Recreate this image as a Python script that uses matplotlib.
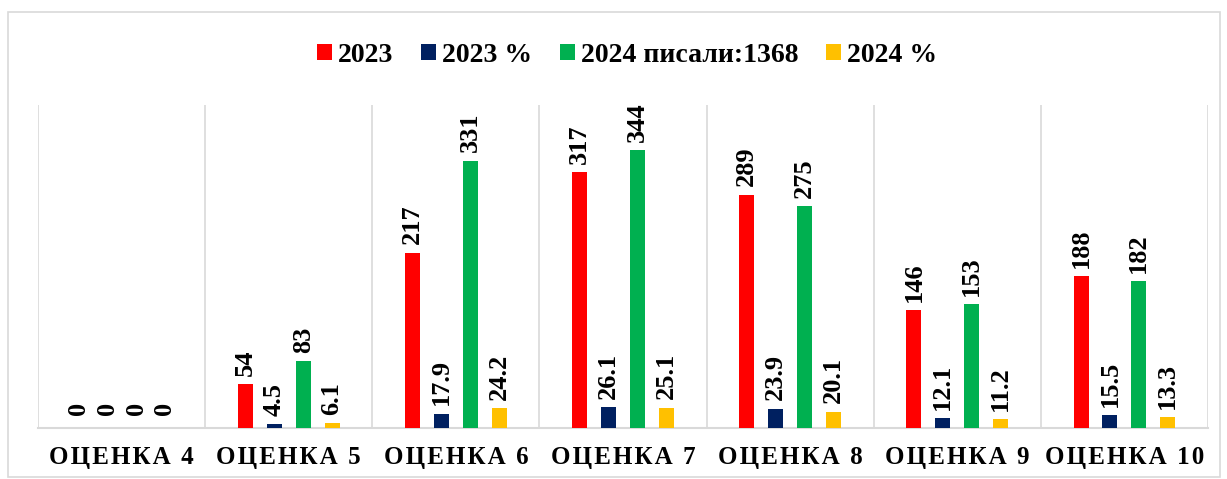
# grouped bars per grade with rotated value labels
# comments are lowercase no punctuation

import numpy as np
import matplotlib.pyplot as plt
from matplotlib.patches import Rectangle

categories = ["ОЦЕНКА 4", "ОЦЕНКА 5", "ОЦЕНКА 6", "ОЦЕНКА 7",
              "ОЦЕНКА 8", "ОЦЕНКА 9", "ОЦЕНКА 10"]
series_names = ["2023", "2023 %", "2024 писали:1368", "2024 %"]
v2023 = [0, 54, 217, 317, 289, 146, 188]
v2023_pct = [0, 4.5, 17.9, 26.1, 23.9, 12.1, 15.5]
v2024 = [0, 83, 331, 344, 275, 153, 182]
v2024_pct = [0, 6.1, 24.2, 25.1, 20.1, 11.2, 13.3]
labels2023 = ["0", "54", "217", "317", "289", "146", "188"]
labels2023_pct = ["0", "4.5", "17.9", "26.1", "23.9", "12.1", "15.5"]
labels2024 = ["0", "83", "331", "344", "275", "153", "182"]
labels2024_pct = ["0", "6.1", "24.2", "25.1", "20.1", "11.2", "13.3"]

colors = ["#ff0000", "#002060", "#00b050", "#ffc000"]
grid_c = "#d9d9d9"

plt.rcParams["font.family"] = ["Liberation Serif", "DejaVu Serif"]


def spaced(s):
    return "\u200a".join(list(s))


def main():
    fig = plt.figure(figsize=(12.27, 4.79), dpi=100)
    ax = fig.add_axes([0.031, 0.1065, 0.9535, 0.6745])

    # outer chart border
    fig.patches.append(Rectangle((8 / 1227, 2 / 479), 1212 / 1227, 465 / 479,
                                 transform=fig.transFigure, fill=False,
                                 edgecolor=grid_c, linewidth=1.2))

    x = np.arange(len(categories))
    step = 0.173
    width = 0.09
    data = [v2023, v2023_pct, v2024, v2024_pct]
    labs = [labels2023, labels2023_pct, labels2024, labels2024_pct]
    for i, (vals, lab, col, name) in enumerate(zip(data, labs, colors, series_names)):
        pos = x + (i - 1.5) * step
        ax.bar(pos, vals, width=width, color=col, label=name, zorder=3)
        for p, v, t in zip(pos, vals, lab):
            off = 9 if v == 0 else 6
            ax.annotate(t, (p, v), xytext=(0, off), textcoords="offset points",
                        rotation=90, ha="center", va="bottom",
                        fontsize=19, fontweight="bold")

    ax.set_xlim(-0.5, len(categories) - 0.5)
    ax.set_ylim(0, 400)
    for b in np.arange(-0.5, len(categories), 1.0):
        ax.axvline(b, color=grid_c, linewidth=1.2, zorder=1)
    for s in ["top", "left", "right"]:
        ax.spines[s].set_visible(False)
    ax.spines["bottom"].set_color(grid_c)
    ax.spines["bottom"].set_linewidth(1.5)
    ax.set_yticks([])
    ax.set_xticks(x)
    ax.set_xticklabels([spaced(c) for c in categories], fontsize=18, fontweight="bold")
    ax.tick_params(axis="x", length=0, pad=13)

    fig.legend(loc="upper center", bbox_to_anchor=(0.511, 0.963), ncol=4,
               frameon=False, handlelength=0.55, handleheight=0.55,
               handletextpad=0.2, columnspacing=1.0,
               prop={"size": 20, "weight": "bold"})

    fig.savefig("out.png")
    plt.close(fig)


if __name__ == "__main__":
    main()
